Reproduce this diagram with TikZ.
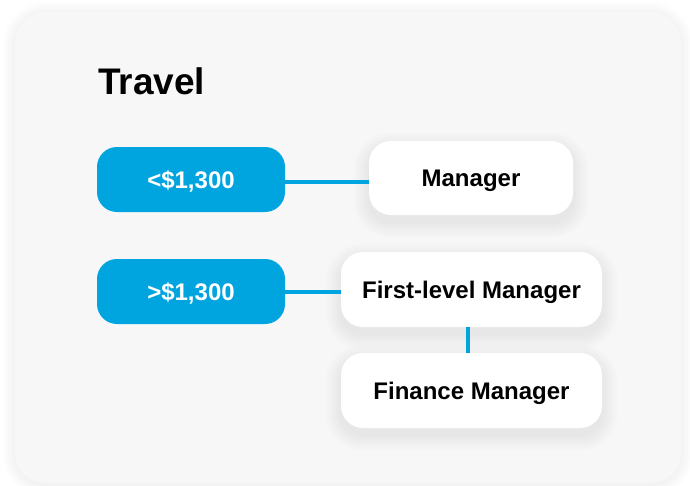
\documentclass[tikz,border=0pt]{standalone}
\usepackage{fontspec}
\setmainfont{Liberation Sans}
\usetikzlibrary{backgrounds}
\definecolor{cardbg}{HTML}{F7F7F7}
\definecolor{accent}{HTML}{00A5E0}
\tikzset{
  boxtext/.style={font=\bfseries\fontsize{24}{28}\selectfont, text height=17.2pt, text depth=0pt},
  amount/.style={boxtext, fill=accent, text=white, rounded corners=20pt, minimum width=188pt, minimum height=65pt,
    inner sep=0pt},
  rolebox/.style={boxtext, fill=white, text=black, rounded corners=22pt, minimum height=75pt, inner sep=0pt},
  link/.style={draw=accent, line width=4pt},
  shadowlayer/.style={fill=black, opacity=0.0055}
}
\begin{document}
\begin{tikzpicture}[x=1pt, y=-1pt]
\useasboundingbox (0,0) rectangle (690,485);
\node[anchor=base west, inner sep=0pt, font=\bfseries\fontsize{37}{42}\selectfont] (title) at (98,94) {Travel};
\node[amount] (lt) at (191,179.5) {<\$1,300};
\node[amount] (gt) at (191,291.5) {>\$1,300};
\node[rolebox, minimum width=204pt, minimum height=74pt] (mgr) at (471,178) {Manager};
\node[rolebox, minimum width=261pt] (first) at (471.5,289.5) {First-level Manager};
\node[rolebox, minimum width=261pt] (fin) at (471.5,390.5) {Finance Manager};
\draw[link] ([yshift=-2pt]lt.east) -- ([yshift=-2pt]lt.east -| mgr.west);
\draw[link] (gt.east) -- (gt.east -| first.west);
\draw[link] ([xshift=-3.5pt]first.south) -- ([xshift=-3.5pt]fin.north);
\begin{scope}[on background layer]
  \fill[white] (0,0) rectangle (690,485);
  \foreach \k in {1,...,12}
    \fill[black, opacity=0.004, rounded corners={30pt+\k pt}] (15-\k,12-\k+2) rectangle (681+\k,483+\k+2);
  \fill[cardbg, rounded corners=30pt] (15,12) rectangle (681,483);
  \foreach \n in {mgr,first,fin}
    \foreach \k in {1,...,16}
      \fill[shadowlayer, rounded corners={22pt+\k pt}]
        ([shift={(-\k,{7-\k})}]\n.north west) rectangle ([shift={(\k,{7+\k})}]\n.south east);
\end{scope}
\end{tikzpicture}
\end{document}
